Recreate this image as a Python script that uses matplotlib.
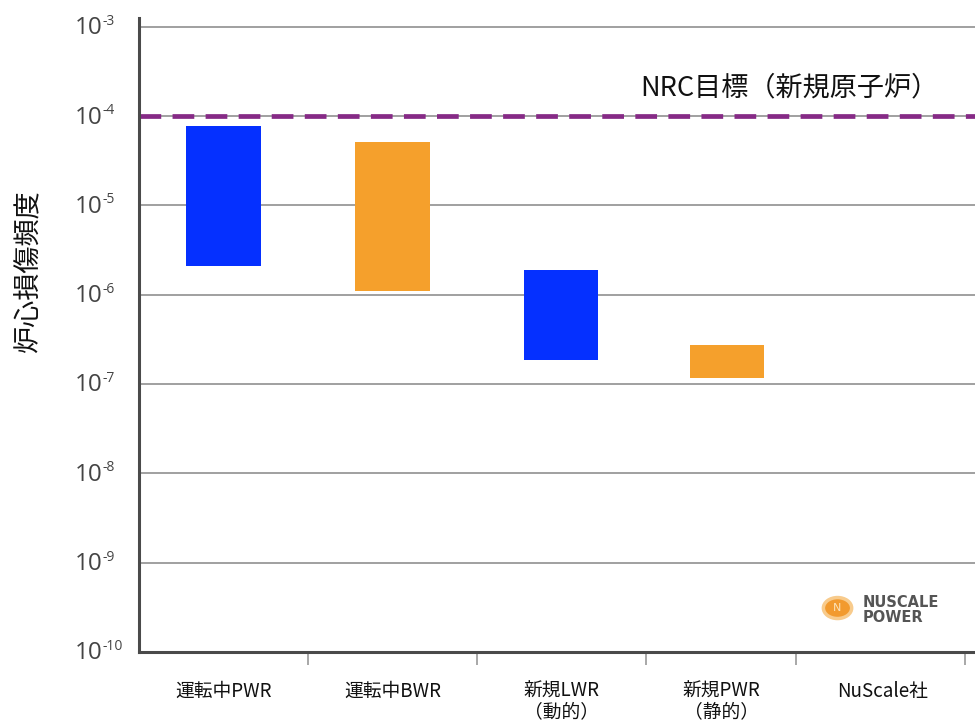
import matplotlib
matplotlib.use("Agg")
import matplotlib.pyplot as plt
import numpy as np
from matplotlib.patches import Circle

plt.rcParams['font.family'] = ['Noto Sans CJK JP', 'DejaVu Sans']

# Data
categories = ['運転中PWR', '運転中BWR', '新規LWR\n（動的）', '新規PWR\n（静的）', 'NuScale社']
cdf_low = [2.1e-6, 1.1e-6, 1.85e-7, 1.17e-7]
cdf_high = [7.7e-5, 5.2e-5, 1.9e-6, 2.75e-7]
bar_colors = ['#0530FF', '#F5A02C', '#0530FF', '#F5A02C']
nrc_target = 1e-4
nrc_label = 'NRC目標（新規原子炉）'
ylabel = '炉心損傷頻度'
decades = list(range(-10, -2))

# Layout (category index units)
label_pos = [0, 1, 2, 2.95, 3.9]
bar_pos = [0, 1, 2, 2.98]
boundaries = [0.5, 1.5, 2.5, 3.39, 4.39]
bar_width = 0.44

fig = plt.figure(figsize=(9.75, 7.23), dpi=100)
ax = fig.add_axes([0.1426, 0.0982, 0.8574, 0.8770])
ax.set_yscale('log')
ax.set_ylim(1e-10, 10 ** -2.9)
ax.set_xlim(-0.5, 4.45)

# gridlines
for d in decades:
    ax.axhline(10.0 ** d, color='#a0a0a0', lw=1.4, zorder=1)

# bars
for x, lo, hi, c in zip(bar_pos, cdf_low, cdf_high, bar_colors):
    ax.bar(x, hi - lo, bottom=lo, width=bar_width, color=c, zorder=3)

# NRC target line
ax.axhline(nrc_target, color='#862A86', lw=3.4, dashes=(4.6, 2.4), zorder=4)
ax.text(0.7785, 0.8896, nrc_label, transform=ax.transAxes, fontsize=19.5,
        ha='center', va='center', color='#111111')

# spines
for s in ['top', 'right']:
    ax.spines[s].set_visible(False)
ax.spines['left'].set_color('#4a4a4a')
ax.spines['left'].set_linewidth(2.2)
ax.spines['bottom'].set_color('#4a4a4a')
ax.spines['bottom'].set_linewidth(2.2)
ax.spines['left'].set_zorder(5)

# y ticks (labels drawn manually with short hyphen exponents)
ax.set_yticks([10.0 ** d for d in decades])
ax.set_yticklabels([])
ax.yaxis.set_minor_locator(matplotlib.ticker.NullLocator())
ax.tick_params(axis='y', length=0)
ytrans = ax.get_yaxis_transform()
for d in decades:
    ax.annotate('10', xy=(0, 10.0 ** d), xycoords=ytrans, xytext=(-26.5, -1),
                textcoords='offset points', ha='right', va='center', fontsize=17.5,
                color='#444444', family='Open Sans', annotation_clip=False)
    ax.annotate('%d' % d, xy=(0, 10.0 ** d), xycoords=ytrans, xytext=(-26.5, 4),
                textcoords='offset points', ha='left', va='center', fontsize=10,
                color='#444444', family='Open Sans', annotation_clip=False)

# x ticks: boundary marks and centered labels
ax.set_xticks(boundaries)
ax.set_xticklabels([''] * len(boundaries))
ax.tick_params(axis='x', length=9, width=1.2, color='#9a9a9a', direction='out')
for x, lab in zip(label_pos, categories):
    ax.text(x, -0.046, lab, transform=ax.get_xaxis_transform(), ha='center', va='top',
            fontsize=13.5, linespacing=0.95, color='#111111')

ax.set_ylabel(ylabel, fontsize=19.5, color='#111111')
ax.yaxis.set_label_coords(-0.115, 0.6)

# NuScale logo approximation
fig.patches.append(Circle((0.859, 0.159), 0.0145, transform=fig.transFigure,
                          facecolor='#F29A2E', edgecolor='#F8CB8C', lw=2.5, figure=fig))
fig.text(0.859, 0.159, 'N', fontsize=8, color='#FCE3B8', ha='center', va='center', family='DejaVu Sans')
fig.text(0.885, 0.167, 'NUSCALE', fontsize=10.5, color='#555555', ha='left', va='center',
         family='DejaVu Sans', fontweight='bold')
fig.text(0.885, 0.146, 'POWER', fontsize=10.5, color='#555555', ha='left', va='center',
         family='DejaVu Sans', fontweight='bold')

fig.savefig('out.png', dpi=100, facecolor='white')
